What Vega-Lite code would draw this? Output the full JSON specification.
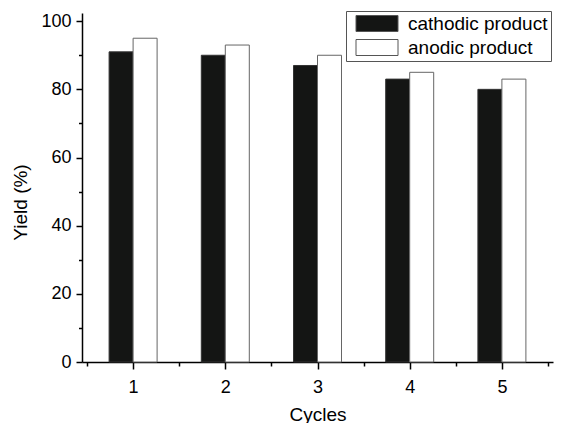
{
  "$schema": "https://vega.github.io/schema/vega-lite/v6.json",
  "width": 471,
  "height": 349,
  "autosize": {"type": "none"},
  "padding": {"left": 82, "top": 13, "right": 12, "bottom": 61},
  "background": "white",
  "config": {
    "view": {"stroke": null},
    "font": "Liberation Sans",
    "axis": {"grid": false, "domainColor": "black", "tickColor": "black", "domainWidth": 1.5, "tickWidth": 1.5, "labelColor": "black", "titleColor": "black", "labelFont": "Liberation Sans", "titleFont": "Liberation Sans", "labelFontSize": 18, "titleFontSize": 19, "titleFontWeight": "normal"}
  },
  "data": {
    "values": [
      {"cycle": 1, "product": "cathodic product", "yield": 91},
      {"cycle": 2, "product": "cathodic product", "yield": 90},
      {"cycle": 3, "product": "cathodic product", "yield": 87},
      {"cycle": 4, "product": "cathodic product", "yield": 83},
      {"cycle": 5, "product": "cathodic product", "yield": 80},
      {"cycle": 1, "product": "\u00a0anodic product", "yield": 95},
      {"cycle": 2, "product": "\u00a0anodic product", "yield": 93},
      {"cycle": 3, "product": "\u00a0anodic product", "yield": 90},
      {"cycle": 4, "product": "\u00a0anodic product", "yield": 85},
      {"cycle": 5, "product": "\u00a0anodic product", "yield": 83}
    ]
  },
  "encoding": {
    "x": {
      "field": "cycle", "type": "quantitative",
      "scale": {"domain": [0.5, 5.5], "nice": false, "zero": false},
      "axis": {
        "title": "Cycles",
        "values": [0.5, 1, 1.5, 2, 2.5, 3, 3.5, 4, 4.5, 5, 5.5],
        "labelExpr": "datum.value % 1 === 0 ? format(datum.value, 'd') : ''",
        "tickSize": {"condition": {"test": "datum.value % 1 === 0", "value": 7}, "value": 4},
        "labelPadding": 9,
        "titleY": 58,
        "titleBaseline": "alphabetic",
        "labelFlush": false,
        "labelOverlap": false
      }
    },
    "y": {
      "field": "yield", "type": "quantitative",
      "scale": {"domain": [0, 102.4], "nice": false},
      "axis": {
        "title": "Yield (%)",
        "values": [0, 10, 20, 30, 40, 50, 60, 70, 80, 90, 100],
        "labelExpr": "datum.value % 20 === 0 ? datum.label : ''",
        "tickSize": {"condition": {"test": "datum.value % 20 === 0", "value": 6}, "value": 3.5},
        "labelPadding": 5,
        "titleX": -56,
        "titleY": 189,
        "titleAngle": -90,
        "titleAlign": "center",
        "titleBaseline": "alphabetic",
        "labelFlush": false,
        "labelOverlap": false
      }
    },
    "color": {
      "field": "product", "type": "nominal",
      "scale": {"domain": ["cathodic product", "\u00a0anodic product"], "range": ["#141514", "#ffffff"]},
      "legend": {
        "title": null,
        "orient": "none",
        "legendX": 264,
        "legendY": -2,
        "padding": 3,
        "strokeColor": "#555555",
        "symbolType": "M-0.3125,-1H4.9375V1H-0.3125Z",
        "symbolSize": 256,
        "symbolStrokeColor": "#555555",
        "symbolStrokeWidth": 1,
        "symbolOpacity": 1,
        "labelFont": "Liberation Sans",
        "labelFontSize": 19,
        "labelColor": "black",
        "labelOffset": 40,
        "rowPadding": 3,
        "labelLimit": 300
      }
    }
  },
  "layer": [
    {
      "transform": [{"filter": "datum.product === 'cathodic product'"}],
      "mark": {"type": "bar", "width": 24, "xOffset": -12, "stroke": "#333333", "strokeWidth": 1, "opacity": 1}
    },
    {
      "transform": [{"filter": "datum.product !== 'cathodic product'"}],
      "mark": {"type": "bar", "width": 24, "xOffset": 12, "stroke": "#666666", "strokeWidth": 1, "opacity": 1}
    }
  ]
}
